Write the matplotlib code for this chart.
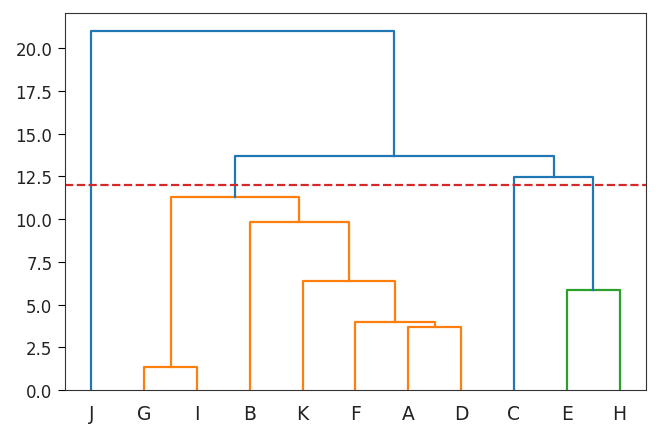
import matplotlib
matplotlib.use("Agg")
import matplotlib.pyplot as plt

# leaves in plotted order
labels = ['J', 'G', 'I', 'B', 'K', 'F', 'A', 'D', 'C', 'E', 'H']

# merges: (left node, right node, height); new nodes numbered from len(labels)
merge_left = [1, 6, 5, 4, 3, 11, 9, 8, 16, 0]
merge_right = [2, 7, 12, 13, 14, 15, 10, 17, 18, 19]
merge_height = [1.35, 3.67, 3.98, 6.39, 9.82, 11.29, 5.87, 12.46, 13.68, 21.0]

cut_height = 12.0
cluster_colors = ['C1', 'C2']
above_color = 'C0'

n = len(labels)
xpos = {i: 5 + 10 * i for i in range(n)}
ypos = {i: 0.0 for i in range(n)}
for k in range(len(merge_height)):
    node = n + k
    xpos[node] = (xpos[merge_left[k]] + xpos[merge_right[k]]) / 2
    ypos[node] = merge_height[k]

# color assignment, top-down
colors = {}
next_col = [0]

def paint(node, col):
    if node < n:
        return
    k = node - n
    if col is None and merge_height[k] < cut_height:
        col = cluster_colors[next_col[0] % len(cluster_colors)]
        next_col[0] += 1
    colors[node] = col if col is not None else above_color
    paint(merge_left[k], col)
    paint(merge_right[k], col)

paint(n + len(merge_height) - 1, None)

fig = plt.figure(figsize=(6.59, 4.35), dpi=100)
ax = fig.add_axes([0.0986, 0.101, 0.8816, 0.867])

for k in range(len(merge_height)):
    node = n + k
    a, b = merge_left[k], merge_right[k]
    h = merge_height[k]
    ax.plot([xpos[a], xpos[a], xpos[b], xpos[b]],
            [ypos[a], h, h, ypos[b]], color=colors[node], lw=1.6)

ax.axhline(cut_height, color='tab:red', ls='--', lw=1.6)

ax.set_xlim(0, 10 * n)
ax.set_ylim(0, max(merge_height) * 1.05)
ax.set_xticks([xpos[i] for i in range(n)])
ax.set_xticklabels(labels, fontsize=13.5, color='#222222')
ax.tick_params(axis='x', length=0, pad=10)
ax.set_yticks([0, 2.5, 5, 7.5, 10, 12.5, 15, 17.5, 20])
ax.tick_params(axis='y', labelsize=12, length=5, pad=4, labelcolor='#222222')
for s in ax.spines.values():
    s.set_color('#333333')

fig.savefig('out.png', dpi=100)
